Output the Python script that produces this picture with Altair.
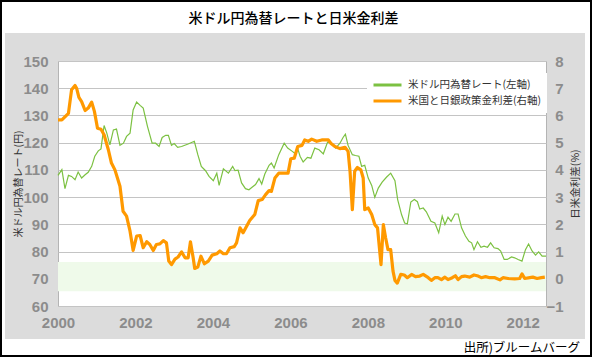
import altair as alt
import pandas as pd

# ---- data ----
fx_year = [2000.00, 2000.10, 2000.18, 2000.27, 2000.35, 2000.44, 2000.52, 2000.61, 2000.70, 2000.78,
           2000.87, 2000.95, 2001.04, 2001.11, 2001.19, 2001.26, 2001.34, 2001.43, 2001.51, 2001.60,
           2001.69, 2001.77, 2001.86, 2001.94, 2002.03, 2002.12, 2002.20, 2002.31, 2002.43, 2002.52,
           2002.61, 2002.69, 2002.78, 2002.85, 2002.93, 2003.00, 2003.09, 2003.19, 2003.36, 2003.52,
           2003.61, 2003.70, 2003.81, 2003.90, 2004.01, 2004.10, 2004.16, 2004.27, 2004.40, 2004.51,
           2004.57, 2004.65, 2004.74, 2004.84, 2004.93, 2005.01, 2005.10, 2005.19, 2005.26, 2005.34,
           2005.45, 2005.51, 2005.58, 2005.70, 2005.84, 2005.93, 2006.05, 2006.12, 2006.19, 2006.25,
           2006.33, 2006.44, 2006.53, 2006.63, 2006.74, 2006.85, 2006.96, 2007.06, 2007.17, 2007.28,
           2007.36, 2007.42, 2007.49, 2007.60, 2007.68, 2007.77, 2007.84, 2007.92, 2008.01, 2008.10,
           2008.18, 2008.27, 2008.37, 2008.48, 2008.59, 2008.70, 2008.77, 2008.87, 2008.95, 2009.02,
           2009.11, 2009.20, 2009.28, 2009.34, 2009.43, 2009.51, 2009.63, 2009.73, 2009.83, 2009.92,
           2009.99, 2010.07, 2010.15, 2010.25, 2010.33, 2010.42, 2010.52, 2010.61, 2010.68, 2010.74,
           2010.83, 2010.92, 2011.00, 2011.09, 2011.17, 2011.26, 2011.36, 2011.43, 2011.52, 2011.60,
           2011.71, 2011.79, 2011.88, 2011.98, 2012.07, 2012.15, 2012.24, 2012.33, 2012.41, 2012.50,
           2012.60]
fx_rate = [108.0, 110.1, 103.1, 108.0, 107.6, 106.4, 109.2, 107.0, 108.2, 109.1,
           111.3, 115.0, 117.0, 117.7, 126.3, 123.5, 119.2, 124.7, 125.0, 119.0,
           119.8, 122.3, 123.5, 132.0, 134.9, 133.7, 132.7, 126.0, 119.8, 119.8,
           118.6, 121.9, 122.7, 122.7, 119.0, 119.7, 118.3, 118.6, 119.5, 120.5,
           115.6, 111.3, 109.7, 107.6, 106.0, 108.8, 104.3, 110.4, 108.8, 111.3,
           109.7, 109.9, 105.2, 103.1, 102.7, 103.6, 104.6, 106.8, 104.8, 108.5,
           111.7, 112.5, 110.7, 115.6, 119.8, 118.0, 116.8, 116.0, 117.8, 115.0,
           112.9, 114.6, 114.3, 118.0, 117.4, 115.9, 120.2, 119.8, 118.0, 119.8,
           121.9, 123.1, 119.0, 115.6, 115.3, 115.0, 111.3, 111.7, 107.0, 104.3,
           99.9, 103.3, 105.5, 107.3, 108.8, 106.0, 99.1, 93.6, 90.5, 90.2,
           98.2, 99.1, 98.3, 95.6, 96.0, 94.6, 91.1, 90.5, 86.9, 93.0,
           89.9, 92.6, 91.1, 93.8, 93.8, 88.7, 85.7, 83.8, 83.2, 80.7,
           83.6, 81.6, 82.0, 81.6, 83.2, 81.4, 81.1, 80.2, 77.1, 77.1,
           78.0, 77.7, 77.1, 76.5, 80.7, 82.8, 80.2, 78.7, 79.9, 78.3,
           78.3]

gap_year = [2000.00, 2000.10, 2000.27, 2000.35, 2000.44, 2000.48, 2000.54, 2000.61, 2000.70, 2000.78,
            2000.87, 2000.94, 2001.02, 2001.11, 2001.19, 2001.30, 2001.38, 2001.47, 2001.60, 2001.68,
            2001.77, 2001.86, 2001.94, 2002.03, 2002.12, 2002.20, 2002.29, 2002.37, 2002.46, 2002.54,
            2002.63, 2002.72, 2002.80, 2002.86, 2002.93, 2003.02, 2003.10, 2003.19, 2003.28, 2003.36,
            2003.42, 2003.49, 2003.53, 2003.61, 2003.69, 2003.78, 2003.88, 2003.98, 2004.10, 2004.18,
            2004.27, 2004.35, 2004.44, 2004.55, 2004.61, 2004.70, 2004.78, 2004.87, 2004.95, 2005.08,
            2005.17, 2005.27, 2005.36, 2005.45, 2005.51, 2005.60, 2005.70, 2005.81, 2005.94, 2006.01,
            2006.10, 2006.19, 2006.30, 2006.37, 2006.46, 2006.55, 2006.68, 2006.81, 2006.98, 2007.05,
            2007.15, 2007.28, 2007.41, 2007.49, 2007.54, 2007.60, 2007.66, 2007.73, 2007.82, 2007.88,
            2007.92, 2008.01, 2008.10, 2008.18, 2008.25, 2008.34, 2008.40, 2008.46, 2008.52, 2008.59,
            2008.65, 2008.70, 2008.76, 2008.85, 2008.94, 2009.02, 2009.13, 2009.23, 2009.34, 2009.43,
            2009.56, 2009.64, 2009.73, 2009.81, 2009.90, 2009.99, 2010.07, 2010.18, 2010.26, 2010.33,
            2010.42, 2010.50, 2010.63, 2010.74, 2010.85, 2010.93, 2011.04, 2011.15, 2011.28, 2011.41,
            2011.49, 2011.62, 2011.79, 2011.92, 2011.98, 2012.05, 2012.18, 2012.26, 2012.37, 2012.48,
            2012.57]
gap_rate = [5.84, 5.84, 6.08, 6.94, 7.10, 7.00, 6.66, 6.51, 6.18, 6.27,
            6.49, 6.15, 5.53, 5.49, 5.29, 4.74, 4.25, 4.00, 3.40, 2.48,
            2.30, 1.75, 1.04, 1.57, 1.59, 1.14, 1.36, 1.26, 1.04, 1.26,
            1.28, 1.40, 1.32, 0.65, 0.52, 0.72, 0.80, 0.99, 0.77, 0.77,
            1.36, 0.77, 0.38, 0.43, 0.83, 0.55, 0.65, 0.87, 0.92, 1.02,
            0.92, 0.92, 1.14, 1.18, 1.32, 1.87, 1.69, 1.93, 2.14, 2.36,
            2.87, 2.91, 3.09, 3.24, 3.21, 3.70, 3.88, 3.88, 3.88, 4.41,
            4.43, 4.86, 4.90, 5.10, 5.05, 5.13, 5.05, 5.10, 5.10, 4.97,
            4.86, 4.78, 4.83, 4.68, 3.95, 2.54, 3.95, 4.09, 4.00, 3.70,
            2.54, 2.60, 2.36, 1.99, 1.87, 0.52, 1.99, 1.50, 1.07, 1.07,
            0.28, -0.06, -0.16, 0.16, 0.14, 0.04, 0.16, 0.08, 0.10, 0.16,
            0.04, -0.06, 0.04, 0.04, -0.03, 0.06, -0.03, 0.04, 0.11, -0.03,
            0.08, 0.10, 0.06, 0.14, 0.10, 0.04, 0.08, 0.04, 0.04, -0.04,
            0.04, 0.01, 0.00, 0.01, 0.18, 0.01, 0.04, 0.06, 0.01, 0.04,
            0.06]

series_names = ["米ドル円為替レート(左軸)", "米国と日銀政策金利差(右軸)"]
series_colors = ["#7cc142", "#ff9900"]
x_tick_values = [2000, 2002, 2004, 2006, 2008, 2010, 2012]
left_tick_values = [60, 70, 80, 90, 100, 110, 120, 130, 140, 150]
right_tick_values = [-1, 0, 1, 2, 3, 4, 5, 6, 7, 8]
x_domain = [2000, 2012.6]
left_domain = [60, 150]
right_domain = [-1, 8]
band_low = [65.4]
band_high = [76.2]

chart_title = "米ドル円為替レートと日米金利差"
source_note = "出所)ブルームバーグ"
left_title = "米ドル円為替レート(円)"
right_title = "日米金利差(%)"

# ---- layout ----
W, H = 488, 245
PAD_L, PAD_T, PAD_R, PAD_B = 58, 61, 46, 51
JP = "Noto Sans CJK JP"
NUM = "Liberation Sans"
LABEL_GRAY = "#8c8c8c"

fx_df = pd.DataFrame({"year": fx_year, "value": fx_rate, "series": series_names[0]})
gap_df = pd.DataFrame({"year": gap_year, "value": gap_rate, "series": series_names[1]})
band_df = pd.DataFrame({"x0": [x_domain[0]], "x1": [x_domain[1]], "lo": band_low, "hi": band_high})
one = pd.DataFrame({"k": [0]})

x_scale = alt.Scale(domain=x_domain, nice=False, zero=False)
x_axis = alt.Axis(values=x_tick_values, format="d", grid=False, domain=False, ticks=False,
                  tickSize=0, labelPadding=9.5, labelFont=NUM, labelFontSize=15,
                  labelFontWeight="bold", labelColor=LABEL_GRAY, labelFlush=False,
                  labelOverlap=False, title=None)

left_scale = alt.Scale(domain=left_domain, nice=False, zero=False)
left_axis = alt.Axis(values=left_tick_values, grid=True, gridColor="#c4c4c4", gridWidth=1,
                     domain=False, ticks=False, tickSize=0, labelPadding=10,
                     labelFont=NUM, labelFontSize=15, labelFontWeight="bold",
                     labelColor=LABEL_GRAY, labelOverlap=False,
                     title=left_title, titleFont=JP, titleFontSize=10,
                     titleFontWeight="normal", titleColor="#333333", titleAngle=270,
                     titleX=-40, titleY=H / 2, titleAlign="center", titleBaseline="middle")

right_scale = alt.Scale(domain=right_domain, nice=False, zero=False)
right_axis = alt.Axis(values=right_tick_values, orient="right", grid=False, domain=False,
                      ticks=False, tickSize=0, labelPadding=17, labelAlign="right",
                      labelFont=NUM, labelFontSize=15, labelFontWeight="bold",
                      labelColor=LABEL_GRAY, labelOverlap=False,
                      title=right_title, titleFont=JP, titleFontSize=10.5,
                      titleFontWeight="normal", titleColor="#333333", titleAngle=270,
                      titleX=29, titleY=H / 2, titleAlign="center", titleBaseline="middle")

legend = alt.Legend(title=None, orient="none", legendX=309, legendY=12, direction="vertical",
                    fillColor="white", padding=5, symbolType="stroke", symbolSize=784,
                    symbolStrokeWidth=3, clipHeight=14, rowPadding=2,
                    labelFont=JP, labelFontSize=10.5, labelColor="#333333",
                    labelOffset=5, labelLimit=300)
color = alt.Color("series:N", scale=alt.Scale(domain=series_names, range=series_colors),
                  legend=legend)

# ---- decorations (frame, panel margins, title, source) ----
def white_rect(x0, x1, y0, y1):
    return alt.Chart(one).mark_rect(color="white").encode(
        x=alt.value(x0), x2=alt.value(x1), y=alt.value(y0), y2=alt.value(y1))

full_l, full_r = -PAD_L, W + PAD_R
full_t, full_b = -PAD_T, H + PAD_B
deco = alt.layer(
    white_rect(full_l, full_r, full_t, 33 - PAD_T),
    white_rect(full_l, full_r, 339 - PAD_T, full_b),
    white_rect(full_l, 5 - PAD_L, full_t, full_b),
    white_rect(585 - PAD_L, full_r, full_t, full_b),
    alt.Chart(one).mark_rect(filled=False, stroke="black", strokeWidth=2).encode(
        x=alt.value(full_l + 1), x2=alt.value(full_r - 1),
        y=alt.value(full_t + 1), y2=alt.value(full_b - 1)),
    alt.Chart(one).mark_text(text=chart_title, font=JP, fontSize=14, fontWeight=500,
                             color="black", align="center", baseline="middle").encode(
        x=alt.value(293.5 - PAD_L), y=alt.value(19 - PAD_T)),
    alt.Chart(one).mark_text(text=source_note, font=JP, fontSize=12.5, color="black",
                             align="right", baseline="middle").encode(
        x=alt.value(580 - PAD_L), y=alt.value(347.5 - PAD_T)),
)

band = alt.Chart(band_df).mark_rect(color="#effaea").encode(
    x=alt.X("x0:Q", scale=x_scale, axis=x_axis),
    x2="x1:Q",
    y=alt.Y("lo:Q", scale=left_scale, axis=left_axis),
    y2="hi:Q",
)

green = alt.Chart(fx_df).mark_line(strokeWidth=1.2).encode(
    x=alt.X("year:Q", scale=x_scale, axis=x_axis),
    y=alt.Y("value:Q", scale=left_scale, axis=left_axis),
    color=color,
)

orange = alt.Chart(gap_df).mark_line(strokeWidth=3.2, strokeJoin="round").encode(
    x=alt.X("year:Q", scale=x_scale, axis=x_axis),
    y=alt.Y("value:Q", scale=right_scale, axis=right_axis),
    color=color,
)

left_layer = alt.layer(band, green)

chart = alt.layer(deco, left_layer, orange).resolve_scale(y="independent").properties(
    width=W, height=H,
    padding={"left": PAD_L, "top": PAD_T, "right": PAD_R, "bottom": PAD_B},
    autosize=alt.AutoSizeParams(type="none"),
    background="#dcdcdc",
).configure_view(fill="white", stroke="#b4b4b4", strokeWidth=1)

chart.save("out.html", embed_options={"renderer": "svg", "actions": False})
